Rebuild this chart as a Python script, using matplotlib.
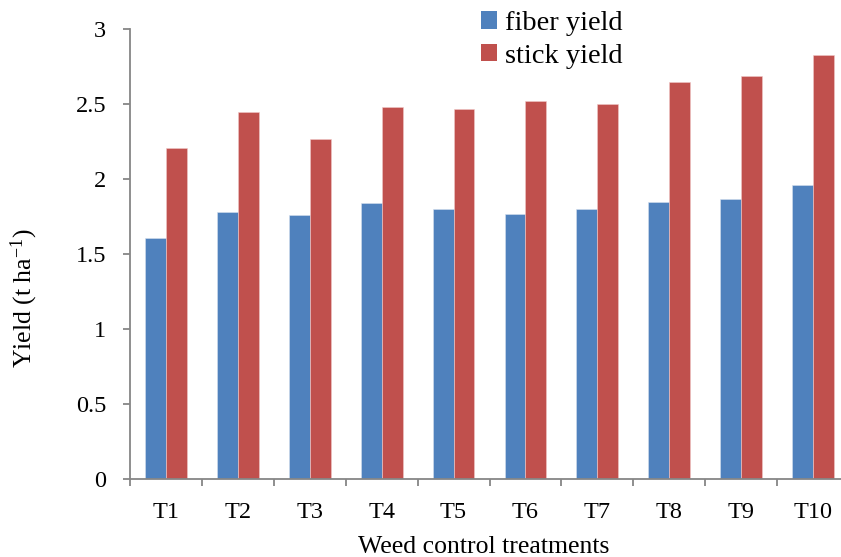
import matplotlib
matplotlib.use("Agg")
import matplotlib.pyplot as plt
from matplotlib.patches import Patch
from matplotlib.ticker import FixedLocator, FuncFormatter
import numpy as np

categories = ["T1", "T2", "T3", "T4", "T5", "T6", "T7", "T8", "T9", "T10"]
fiber_yield = [1.61, 1.78, 1.76, 1.84, 1.80, 1.77, 1.80, 1.85, 1.87, 1.96]
stick_yield = [2.21, 2.45, 2.27, 2.48, 2.47, 2.52, 2.50, 2.65, 2.69, 2.83]
series_names = ["fiber yield", "stick yield"]
y_ticks = [0, 0.5, 1, 1.5, 2, 2.5, 3]

plt.rcParams["font.family"] = ["Liberation Serif", "DejaVu Serif"]
plt.rcParams["mathtext.fontset"] = "custom"
plt.rcParams["mathtext.rm"] = "Liberation Serif"
plt.rcParams["mathtext.it"] = "Liberation Serif:italic"

W, H = 841, 557
fig = plt.figure(figsize=(W / 100, H / 100), dpi=100)
ax = fig.add_axes([130 / W, (H - 479.3) / H, 719 / W, 450 / H])

blue = "#4F81BD"
red = "#C0504D"
grey = "#868686"

x = np.arange(len(categories))
bw = 0.29
ax.bar(x - bw / 2, fiber_yield, bw, color=blue, edgecolor="#d6e0ee", linewidth=0.4)
ax.bar(x + bw / 2, stick_yield, bw, color=red, edgecolor="#f0c8c8", linewidth=0.4)

ax.set_xlim(-0.5, len(categories) - 0.5)
ax.set_ylim(0, 3)

for s in ["top", "right"]:
    ax.spines[s].set_visible(False)
for s in ["left", "bottom"]:
    ax.spines[s].set_color(grey)
    ax.spines[s].set_linewidth(1.3)

ax.yaxis.set_major_locator(FixedLocator(y_ticks))
ax.yaxis.set_major_formatter(FuncFormatter(lambda v, p: f"{v:g}"))
ax.tick_params(axis="y", direction="out", length=5, width=1.3, color=grey,
               labelsize=17.5, pad=12)

ax.set_xticks(x)
ax.set_xticklabels(categories)
ax.xaxis.set_minor_locator(FixedLocator(np.arange(-0.5, len(categories), 1.0)))
ax.tick_params(axis="x", which="major", length=0, labelsize=17.5, pad=16)
ax.tick_params(axis="x", which="minor", direction="out", length=5, width=1.3, color=grey)

fig.text(484 / W, 1 - 547 / H, "Weed control treatments", ha="center", va="center",
         fontsize=18.5)
fig.text(24 / W, 1 - 298 / H, r"Yield (t ha$^{-1}$)", ha="center", va="center",
         rotation=90, fontsize=18.5)

handles = [Patch(facecolor=blue), Patch(facecolor=red)]
fig.legend(handles, series_names, loc="upper left",
           bbox_to_anchor=(481 / W, 1 - 11 / H), frameon=False, fontsize=20.5,
           handlelength=0.55, handleheight=0.55, handletextpad=0.3,
           labelspacing=0.28, borderpad=0, borderaxespad=0)

fig.savefig("out.png", dpi=100)
